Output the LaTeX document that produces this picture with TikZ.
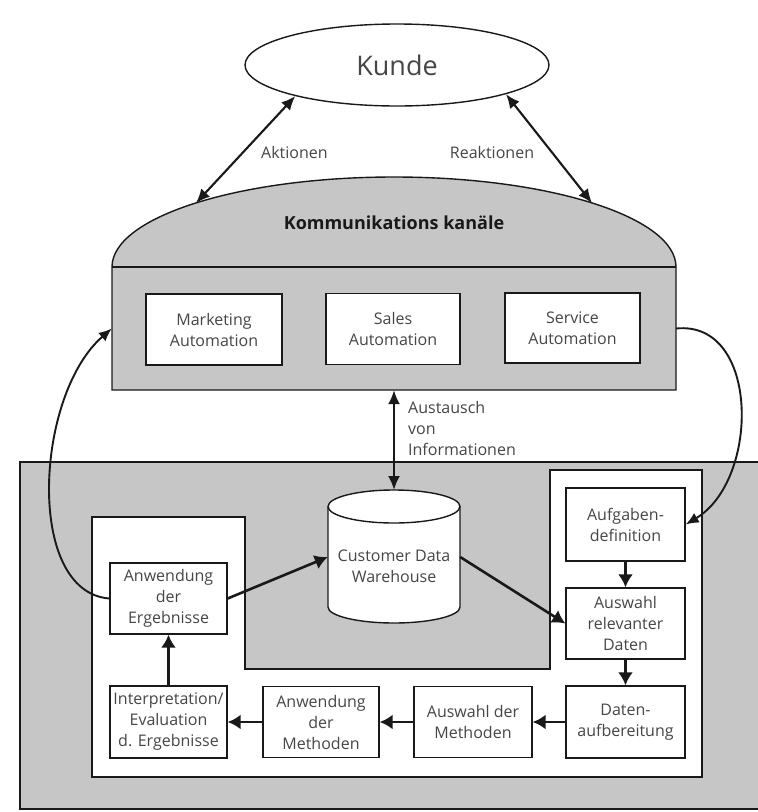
\documentclass[tikz,border=0pt]{standalone}
\usepackage{fontspec}
\setmainfont{Open Sans}
\usetikzlibrary{arrows.meta,shapes.geometric}
\definecolor{panelgray}{RGB}{198,198,198}
\definecolor{ink}{RGB}{25,25,25}
\definecolor{textgray}{RGB}{70,70,70}
\begin{document}
\begin{tikzpicture}[x=1pt,y=-1pt,
  every node/.style={text=textgray},
  procbox/.style={draw=ink,line width=1.3pt,fill=white,rectangle,inner sep=0pt,
    align=center,font=\fontsize{16}{21}\selectfont},
  lbl/.style={font=\fontsize{16}{21}\selectfont,inner sep=0pt,align=left},
  duplex/.style={draw=ink,line width=2.1pt,
    {Latex[length=14pt,width=12pt]}-{Latex[length=14pt,width=12pt]}},
  link/.style={draw=ink,line width=1.9pt,-{Latex[length=13pt,width=11pt]}},
  flow/.style={draw=ink,line width=2.6pt,-{Latex[length=13pt,width=15pt]}},
  outline/.style={draw=ink,line width=1.4pt},
]
\useasboundingbox (0,0) rectangle (758,812);
\fill[white] (0,0) rectangle (758,812);

% ---- customer ----
\node[ellipse,outline,fill=white,minimum width=304pt,minimum height=82pt,
  inner sep=0pt,font=\fontsize{27}{30}\selectfont] (kunde) at (397,65) {Kunde};

% ---- communication channels panel ----
\fill[panelgray] (112,267) arc[start angle=180,end angle=0,x radius=282pt,y radius=90pt]
  -- (676,390) -- (112,390) -- cycle;
\draw[outline] (112,267) arc[start angle=180,end angle=0,x radius=282pt,y radius=90pt]
  -- (676,390) -- (112,390) -- cycle;
\draw[outline] (112,267) -- (676,267);
\node[inner sep=0pt,minimum width=564pt,minimum height=123pt] (panel) at (394,328.5) {};
\node[text=ink,font=\fontsize{18}{20}\selectfont\bfseries] (kanal) at (394,223) {Kommunikations kanäle};
\coordinate (domeA) at (196,203);
\coordinate (domeR) at (592,203);

\node[procbox,minimum width=136pt,minimum height=71pt] (mkt) at (214,329.5) {Marketing\\Automation};
\node[procbox,minimum width=134pt,minimum height=71pt] (sales) at (393,329) {Sales\\Automation};
\node[procbox,minimum width=135pt,minimum height=70pt] (serv) at (572.5,328) {Service\\Automation};

% ---- actions / reactions ----
\draw[duplex] (kunde.197) -- (domeA);
\draw[duplex] (kunde.345) -- (domeR);
\node[lbl,anchor=west] (akt) at (261,152) {Aktionen};
\node[lbl] (reakt) at (492,152) {Reaktionen};

% ---- analytical area ----
\fill[panelgray] (20,462) rectangle (758,809);
\draw[outline] (758,462) -- (20,462) -- (20,809) -- (758,809);
\draw[outline,fill=white] (92,517) -- (245,517) -- (245,669) -- (550,669) -- (550,470)
  -- (702,470) -- (702,777) -- (92,777) -- cycle;

% data warehouse cylinder
\draw[outline,fill=white] (328,506.5) -- (328,607)
  arc[start angle=180,end angle=360,x radius=66pt,y radius=16pt] -- (460,506.5);
\draw[outline,fill=white] (394,506.5) ellipse[x radius=66pt,y radius=16.5pt];
\node[inner sep=0pt,minimum width=132pt,minimum height=100pt] (cdw) at (394,557) {};
\node[lbl,align=center] (cdwtext) at (394,566) {Customer Data\\Warehouse};
\coordinate (cyltop) at (394,490);

% exchange of information
\draw[duplex] (panel.south) -- (cyltop);
\node[lbl,anchor=west] (info) at (408,428) {Austausch\\von\\Informationen};

% process steps
\node[procbox,minimum width=119pt,minimum height=73pt] (aufg) at (625.5,524.5) {Aufgaben-\\definition};
\node[procbox,minimum width=119pt,minimum height=71pt] (ausrel) at (625.5,623.5) {Auswahl\\relevanter\\Daten};
\node[procbox,minimum width=119pt,minimum height=72pt] (daten) at (625.5,722) {Daten-\\aufbereitung};
\node[procbox,minimum width=118pt,minimum height=71pt] (ausm) at (473,722) {Auswahl der\\Methoden};
\node[procbox,minimum width=116pt,minimum height=71pt] (anwm) at (321,722) {Anwendung\\der\\Methoden};
\node[procbox,minimum width=117pt,minimum height=72pt] (interp) at (168.5,722) {Interpretation/\\Evaluation\\d. Ergebnisse};
\node[procbox,minimum width=117pt,minimum height=71pt] (erg) at (168.5,598.5) {Anwendung\\der\\Ergebnisse};

\draw[flow] (aufg) -- (ausrel);
\draw[flow] (ausrel) -- (daten);
\draw[flow] (daten) -- (ausm);
\draw[flow] (ausm) -- (anwm);
\draw[flow] (anwm) -- (interp);
\draw[flow] (interp) -- (erg);
\draw[flow] (erg.east) -- (cdw.west);
\draw[flow] (cdw.east) -- (ausrel.west);

% feedback loops
\draw[link] (erg.west) .. controls (25,592) and (35,395) .. (panel.west);
\draw[link] (panel.east) .. controls (760,320) and (760,480) .. (aufg.east);
\end{tikzpicture}
\end{document}
